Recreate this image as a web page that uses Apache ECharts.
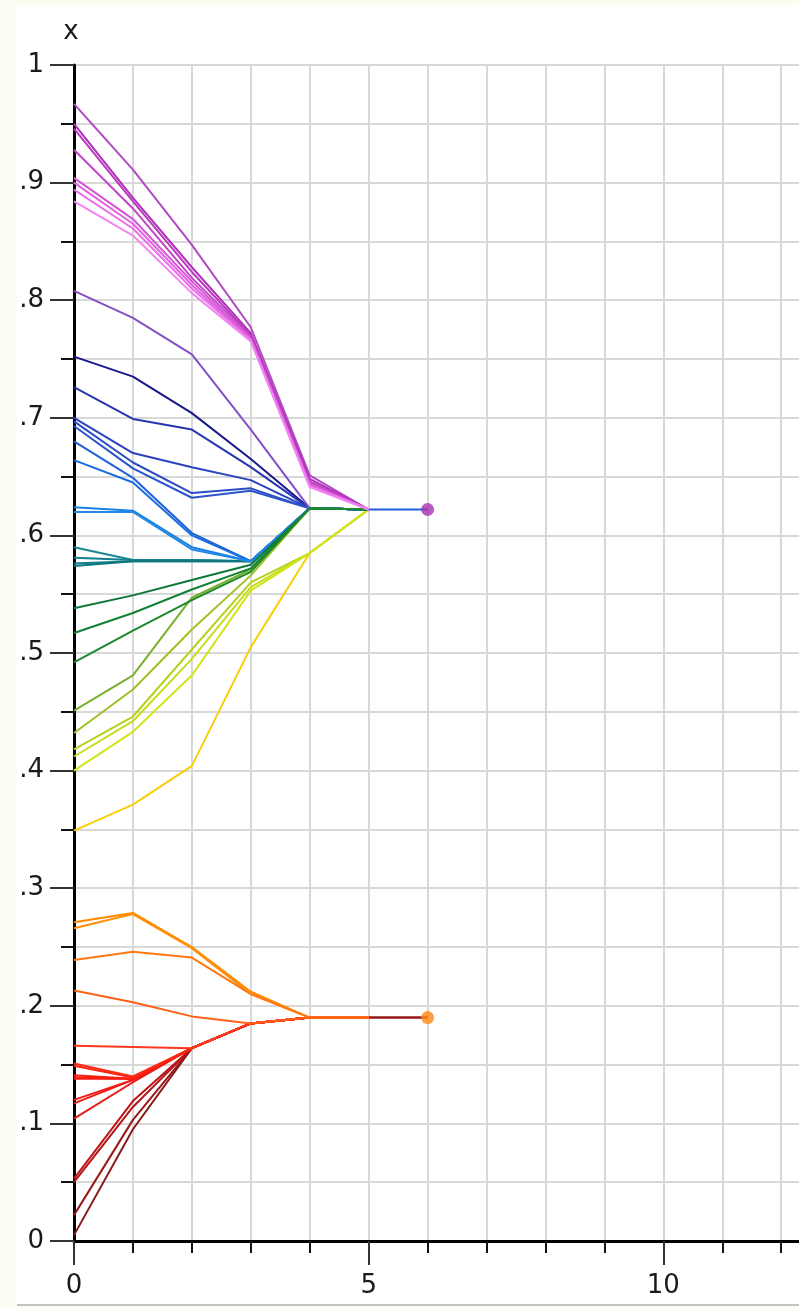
<!DOCTYPE html>
<html>
<head>
<meta charset="utf-8">
<script src="https://cdn.jsdelivr.net/npm/echarts@6/dist/echarts.min.js"></script>
<style>
  html, body { margin: 0; padding: 0; width: 799px; height: 1308px; overflow: hidden; background: #fcfcf2; }
  #panel { position: absolute; left: 17px; top: 6px; width: 782px; height: 1298px; background: #ffffff;
           border-bottom: 2px solid #c4c4c4; overflow: hidden; }
  #chart { position: absolute; left: 0; top: 0; width: 941px; height: 1298px; }
</style>
</head>
<body>
<div id="panel"><div id="chart"></div></div>
<script>
// iteration index for each stored value
const steps = [0, 1, 2, 3, 4, 5, 6];

// trajectories of x per iteration, grouped by colour family
const magentaPaths = [
  [0.967, 0.911, 0.847, 0.777, 0.651, 0.622],
  [0.950, 0.887, 0.828, 0.772, 0.648, 0.622],
  [0.946, 0.884, 0.824, 0.770, 0.646, 0.622],
  [0.928, 0.878, 0.819, 0.769, 0.645, 0.622],
  [0.904, 0.869, 0.816, 0.767, 0.644, 0.622],
  [0.900, 0.865, 0.813, 0.766, 0.643, 0.622],
  [0.894, 0.861, 0.810, 0.766, 0.642, 0.622],
  [0.884, 0.855, 0.806, 0.765, 0.641, 0.622]
];
const magentaColors = ['#b04ac2', '#b030ba', '#ba38c0', '#c446c8', '#d655d6', '#e060e0', '#ea70ea', '#f285f2'];

const purplePaths = [
  [0.808, 0.785, 0.754, 0.690, 0.623, 0.622]
];
const purpleColors = ['#8450c6'];

const bluePaths = [
  [0.752, 0.735, 0.704, 0.665, 0.623, 0.622],
  [0.726, 0.699, 0.690, 0.658, 0.623, 0.622],
  [0.700, 0.670, 0.658, 0.647, 0.623, 0.622],
  [0.697, 0.662, 0.636, 0.640, 0.623, 0.622],
  [0.693, 0.657, 0.632, 0.638, 0.623, 0.622],
  [0.680, 0.649, 0.602, 0.578, 0.623, 0.622, 0.622],
  [0.664, 0.645, 0.600, 0.578, 0.623, 0.622],
  [0.624, 0.621, 0.590, 0.578, 0.623, 0.622],
  [0.620, 0.620, 0.588, 0.578, 0.623, 0.622]
];
const blueColors = ['#18188a', '#2834b0', '#2a42be', '#2a4ec6', '#2a54ca', '#1f60d8', '#1a6ce0', '#1c82e2', '#2289e6'];

const tealPaths = [
  [0.590, 0.579, 0.579, 0.578, 0.623, 0.622],
  [0.581, 0.579, 0.579, 0.578, 0.623, 0.622],
  [0.576, 0.578, 0.578, 0.578, 0.623, 0.622],
  [0.574, 0.578, 0.578, 0.578, 0.623, 0.622]
];
const tealColors = ['#178894', '#14828e', '#107e88', '#0e787e'];

const greenPaths = [
  [0.538, 0.549, 0.562, 0.575, 0.623, 0.622],
  [0.517, 0.534, 0.554, 0.572, 0.623, 0.622],
  [0.492, 0.519, 0.545, 0.569, 0.623, 0.622]
];
const greenColors = ['#0e7838', '#128234', '#1c8a2c'];

const limePaths = [
  [0.451, 0.481, 0.547, 0.571, 0.623, 0.622],
  [0.432, 0.469, 0.520, 0.566, 0.623, 0.622],
  [0.418, 0.446, 0.503, 0.560, 0.585, 0.622],
  [0.412, 0.442, 0.495, 0.556, 0.585, 0.622],
  [0.400, 0.433, 0.481, 0.553, 0.585, 0.622]
];
const limeColors = ['#78b02e', '#9cc224', '#b6d21e', '#c8dc1c', '#d4e41a'];

const yellowPaths = [
  [0.349, 0.371, 0.404, 0.505, 0.585, 0.622]
];
const yellowColors = ['#f8cf06'];

const orangePaths = [
  [0.271, 0.279, 0.250, 0.212, 0.190, 0.190],
  [0.266, 0.278, 0.249, 0.210, 0.190, 0.190],
  [0.239, 0.246, 0.241, 0.210, 0.190, 0.190],
  [0.213, 0.203, 0.191, 0.185, 0.190, 0.190]
];
const orangeColors = ['#ff8a00', '#ff9006', '#ff7812', '#ff6216'];

const redPaths = [
  [0.104, 0.135, 0.164, 0.185, 0.190, 0.190],
  [0.117, 0.137, 0.164, 0.185, 0.190, 0.190],
  [0.120, 0.137, 0.164, 0.185, 0.190, 0.190],
  [0.138, 0.138, 0.164, 0.185, 0.190, 0.190],
  [0.139, 0.138, 0.164, 0.185, 0.190, 0.190],
  [0.141, 0.138, 0.164, 0.185, 0.190, 0.190],
  [0.149, 0.139, 0.164, 0.185, 0.190, 0.190],
  [0.151, 0.140, 0.164, 0.185, 0.190, 0.190],
  [0.166, 0.165, 0.164, 0.185, 0.190, 0.190]
];
const redColors = ['#e81a1a', '#ee1816', '#f01a14', '#f41810', '#f71a10', '#fa1e12', '#fc2414', '#fd2a16', '#ff381a'];

const maroonPaths = [
  [0.005, 0.095, 0.164, 0.185, 0.190, 0.190, 0.190],
  [0.022, 0.103, 0.164, 0.185, 0.190, 0.190, 0.190],
  [0.050, 0.114, 0.164, 0.185, 0.190, 0.190],
  [0.053, 0.119, 0.164, 0.185, 0.190, 0.190]
];
const maroonColors = ['#881a1a', '#981818', '#b21616', '#c01414'];

// converged cluster centres
const centers = [[6, 0.622], [6, 0.190]];
const centerColors = ['#a532b2', '#ff8a14'];

// drawing order: later groups paint over earlier ones
const groups = [
  [yellowPaths, yellowColors],
  [limePaths, limeColors],
  [tealPaths, tealColors],
  [bluePaths, blueColors],
  [purplePaths, purpleColors],
  [greenPaths, greenColors],
  [magentaPaths, magentaColors],
  [maroonPaths, maroonColors],
  [redPaths, redColors],
  [orangePaths, orangeColors]
];

const series = [];
groups.forEach(([paths, colors]) => {
  paths.forEach((p, k) => {
    series.push({
      type: 'line',
      data: p.map((v, i) => [steps[i], v]),
      symbol: 'none',
      showSymbol: false,
      silent: true,
      lineStyle: { color: colors[k], width: 2 },
      itemStyle: { color: colors[k] },
      z: 3
    });
  });
});
series.push({
  type: 'scatter',
  data: centers.map((c, i) => ({ value: c, itemStyle: { color: centerColors[i] } })),
  symbolSize: 13,
  silent: true,
  z: 5
});

const font = 'DejaVu Sans';
const chart = echarts.init(document.getElementById('chart'), null, { renderer: 'canvas' });
chart.setOption({
  animation: false,
  backgroundColor: '#ffffff',
  grid: { left: 57, right: 0, top: 59, bottom: 63, containLabel: false, outerBoundsMode: 'none' },
  xAxis: {
    type: 'value', min: 0, max: 15, interval: 5,
    axisLine: { onZero: false, lineStyle: { color: '#000', width: 3 } },
    axisTick: { length: 24, lineStyle: { color: '#333', width: 2 } },
    minorTick: { show: true, splitNumber: 5, length: 12, lineStyle: { color: '#111', width: 2 } },
    splitLine: { show: true, lineStyle: { color: '#d8d8d8', width: 2 } },
    minorSplitLine: { show: true, lineStyle: { color: '#d8d8d8', width: 2 } },
    axisLabel: { margin: 32, fontFamily: font, fontSize: 26, color: '#1a1a1a' }
  },
  yAxis: {
    type: 'value', min: 0, max: 1, interval: 0.1,
    name: 'x', nameLocation: 'end', nameGap: 20,
    nameTextStyle: { fontFamily: font, fontSize: 26, color: '#1a1a1a', align: 'center', padding: [0, 6, 0, 0] },
    axisLine: { onZero: false, lineStyle: { color: '#000', width: 3 } },
    axisTick: { length: 24, lineStyle: { color: '#333', width: 2 } },
    minorTick: { show: true, splitNumber: 2, length: 13, lineStyle: { color: '#111', width: 2 } },
    splitLine: { show: true, lineStyle: { color: '#d8d8d8', width: 2 } },
    minorSplitLine: { show: true, lineStyle: { color: '#d8d8d8', width: 2 } },
    axisLabel: {
      margin: 30, fontFamily: font, fontSize: 26, color: '#1a1a1a',
      formatter: v => {
        const s = (+v).toFixed(1);
        if (s === '0.0') return '0';
        if (s === '1.0') return '1';
        return s.replace(/^0/, '');
      }
    }
  },
  series: series
});
</script>
</body>
</html>
